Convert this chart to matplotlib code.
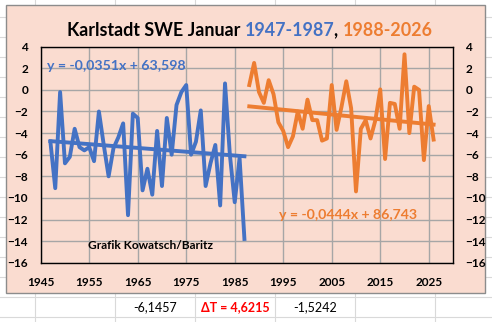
import matplotlib.pyplot as plt
import numpy as np
from matplotlib.lines import Line2D
from matplotlib.patches import Rectangle

# January mean temperature, Karlstadt (SWE)
years_early = np.arange(1947, 1988)
temps_early = [-4.8, -9.1, -0.2, -6.8, -6.2, -3.6, -5.3, -5.6, -5.3, -6.6,
               -2.0, -5.1, -8.0, -5.4, -4.4, -3.1, -11.6, -2.2, -2.6, -9.3,
               -7.3, -9.7, -3.8, -8.9, -2.6, -6.0, -1.4, -0.2, 0.45, -6.0,
               -4.8, -1.9, -8.9, -6.8, -5.1, -10.7, 0.6, -6.0, -10.4, -6.3,
               -13.8]
years_late = np.arange(1988, 2027)
temps_late = [0.45, 2.5, -0.2, -1.2, 0.9, -0.4, -3.0, -3.8, -5.3, -4.3,
              -2.0, -3.6, -0.9, -2.8, -2.8, -4.7, -4.5, 0.45, -3.7, -1.6,
              0.8, -1.7, -9.4, -3.6, -2.8, -4.5, -2.8, 0.05, -6.4, -1.2,
              -1.3, -3.6, 3.3, -4.0, 0.3, 0.0, -6.5, -1.5, -4.6]

# linear trends as printed on the chart
trend_early = (-0.0351, 63.598)
trend_late = (-0.0444, 86.743)

# cell values under the chart
cell_values = ["-6,1457", "\u0394T = 4,6215", "-1,5242"]

x_ticks = list(range(1945, 2026, 10))
y_ticks = list(range(-16, 5, 2))

BLUE = "#4472C4"
ORANGE = "#ED7D31"
PEACH = "#FADCD0"

plt.rcParams["font.family"] = ["Lato", "DejaVu Sans"]
plt.rcParams["font.weight"] = "bold"

W, H = 492, 322
fig = plt.figure(figsize=(W / 100, H / 100), dpi=100)


def fx(px):
    return px / W


def fy(py):
    return 1 - py / H


# spreadsheet cell grid behind the chart
for x in [35, 115, 195, 275, 355, 435]:
    fig.add_artist(Line2D([fx(x)] * 2, [0, 1], color="#D9D9D9", lw=0.8, zorder=1))
for y in np.arange(316.7, 0, -20):
    fig.add_artist(Line2D([0, 1], [fy(y)] * 2, color="#D9D9D9", lw=0.8, zorder=1))

# chart area
fig.add_artist(Rectangle((fx(6), fy(293)), 479 / W, 288 / H, transform=fig.transFigure,
                         facecolor=PEACH, edgecolor="#8C8C8C", lw=1.0, zorder=3))

ax = fig.add_axes([fx(40.7), fy(262.7), (453 - 40.7) / W, 216 / H])
ax.set_zorder(5)
ax.set_facecolor(PEACH)
ax.set_xlim(1945, 2030)
ax.set_ylim(-16, 4)
ax.set_xticks(x_ticks)
ax.set_yticks(y_ticks)
ax.grid(color="#A6A6A6", lw=1.0)
ax.set_axisbelow(True)
for spine in ax.spines.values():
    spine.set_color("black")
    spine.set_linewidth(1.0)
ax.tick_params(axis="both", length=0, labelsize=8.5)
ax.tick_params(axis="y", pad=9, labelright=True)
ax.tick_params(axis="x", pad=10)

ax.plot(years_early, temps_early, color=BLUE, lw=2.8)
ax.plot(years_late, temps_late, color=ORANGE, lw=2.8)
ax.plot(years_early, trend_early[0] * years_early + trend_early[1], color=BLUE, lw=2.8)
ax.plot(years_late, trend_late[0] * years_late + trend_late[1], color=ORANGE, lw=2.8)

fig.text(fx(47), fy(66), "y = -0,0351x + 63,598", color=BLUE, fontsize=10.2,
         va="center", ha="left", zorder=6)
fig.text(fx(279), fy(215), "y = -0,0444x + 86,743", color=ORANGE, fontsize=10.2,
         va="center", ha="left", zorder=6)
fig.text(fx(88), fy(245.5), "Grafik Kowatsch/Baritz", color="black", fontsize=8.6,
         va="center", ha="left", zorder=6)

# title in several colours
pieces = [("Karlstadt SWE Januar ", "black"), ("1947-1987", BLUE),
          (", ", "black"), ("1988-2026", ORANGE)]
renderer = fig.canvas.get_renderer()
texts = []
for s, c in pieces:
    t = fig.text(0, fy(30.5), s, color=c, fontsize=12.9, va="center", ha="left", zorder=6)
    texts.append(t)
widths = [t.get_window_extent(renderer).width for t in texts]
x0 = 250 - sum(widths) / 2
for t, w in zip(texts, widths):
    t.set_x(fx(x0))
    x0 += w

# numbers in the cells below
fig.text(fx(155), fy(307), cell_values[0], fontsize=9, weight="normal",
         ha="center", va="center", zorder=6)
fig.text(fx(235), fy(307), cell_values[1], fontsize=9, color="#FF0000",
         ha="center", va="center", zorder=6)
fig.text(fx(315), fy(307), cell_values[2], fontsize=9, weight="normal",
         ha="center", va="center", zorder=6)

fig.savefig("out.png", dpi=100, facecolor="white")
